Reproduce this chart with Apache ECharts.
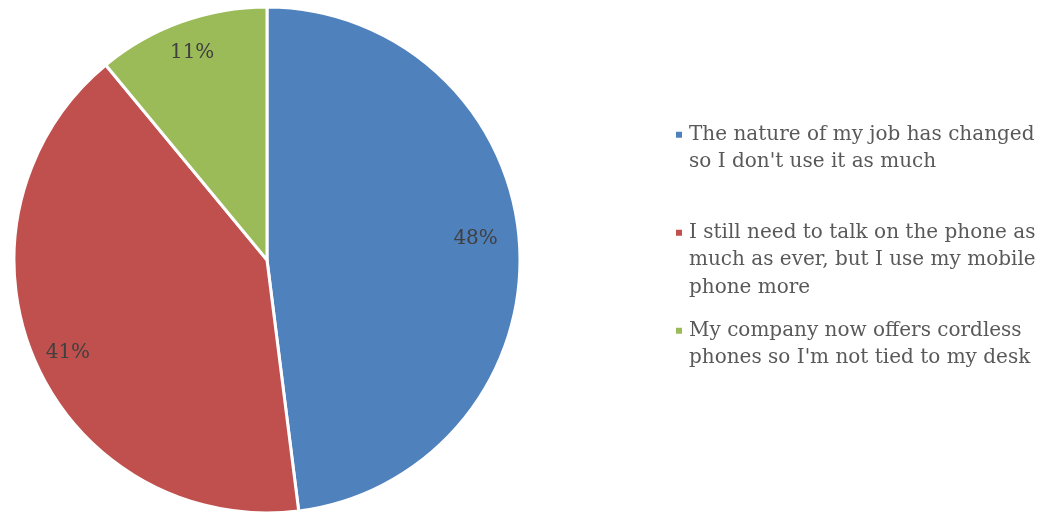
<!DOCTYPE html>
<html>
<head>
<meta charset="utf-8">
<script src="https://cdn.jsdelivr.net/npm/echarts@6/dist/echarts.min.js"></script>
<style>
  html, body { margin: 0; padding: 0; background: #ffffff; }
  #chart { width: 1052px; height: 514px; }
</style>
</head>
<body>
<div id="chart"></div>
<script>
// Reasons for using the desk phone less
const categories = [
  "The nature of my job has changed so I don't use it as much",
  "I still need to talk on the phone as much as ever, but I use my mobile phone more",
  "My company now offers cordless phones so I'm not tied to my desk"
];
// Legend text, wrapped as shown (each entry padded to three lines)
const legendLines = [
  "The nature of my job has changed\nso I don't use it as much\n",
  "I still need to talk on the phone as\nmuch as ever, but I use my mobile\nphone more",
  "My company now offers cordless\nphones so I'm not tied to my desk\n"
];
const shares = [48, 41, 11];
const colors = ['#4F81BD', '#C0504D', '#9BBB59'];

const FONT = '"DejaVu Serif", "Liberation Serif", serif';
const R = 253;

// small nudges for the percentage labels
const labelOffsets = [[-9, -8], [1, 6], [-1, -2]];

const chart = echarts.init(document.getElementById('chart'), null, { renderer: 'canvas' });

const sliceData = categories.map((name, i) => ({
  name: name,
  value: shares[i],
  itemStyle: { color: colors[i] }
}));

// Legend marker: a square at the top of a tall, mostly empty box
const markerIcon = 'path://M0,0L8,0L8,8L0,8Z M0,62.99L0.01,62.99L0.01,63L0,63Z';

const option = {
  backgroundColor: '#ffffff',
  animation: false,
  legend: {
    orient: 'vertical',
    left: 674,
    top: 121,
    itemWidth: 8,
    itemHeight: 63,
    itemGap: 15.5,
    icon: markerIcon,
    selectedMode: false,
    padding: 0,
    data: categories.map((name, i) => ({ name: name, itemStyle: { color: colors[i] } })),
    formatter: name => legendLines[categories.indexOf(name)],
    textStyle: {
      fontFamily: FONT,
      fontSize: 20,
      color: '#595959',
      lineHeight: 27.5,
      padding: [0, 0, 0, 1]
    }
  },
  series: [
    {
      type: 'pie',
      center: [267, 260],
      radius: [0, R],
      startAngle: 90,
      clockwise: true,
      silent: true,
      label: { show: false },
      labelLine: { show: false },
      itemStyle: { borderColor: '#ffffff', borderWidth: 3 },
      data: sliceData
    },
    {
      // transparent ring that carries the percentage labels near the rim
      type: 'pie',
      center: [267, 260],
      radius: [R * 0.7, R],
      startAngle: 90,
      clockwise: true,
      silent: true,
      legendHoverLink: false,
      itemStyle: { color: 'rgba(0,0,0,0)', borderWidth: 0 },
      label: {
        show: true,
        position: 'inside',
        formatter: p => p.value + '%',
        fontFamily: FONT,
        fontSize: 20,
        color: '#404040'
      },
      labelLine: { show: false },
      data: categories.map((name, i) => ({
        name: name,
        value: shares[i],
        label: { offset: labelOffsets[i] }
      }))
    }
  ]
};

chart.setOption(option);
</script>
</body>
</html>
